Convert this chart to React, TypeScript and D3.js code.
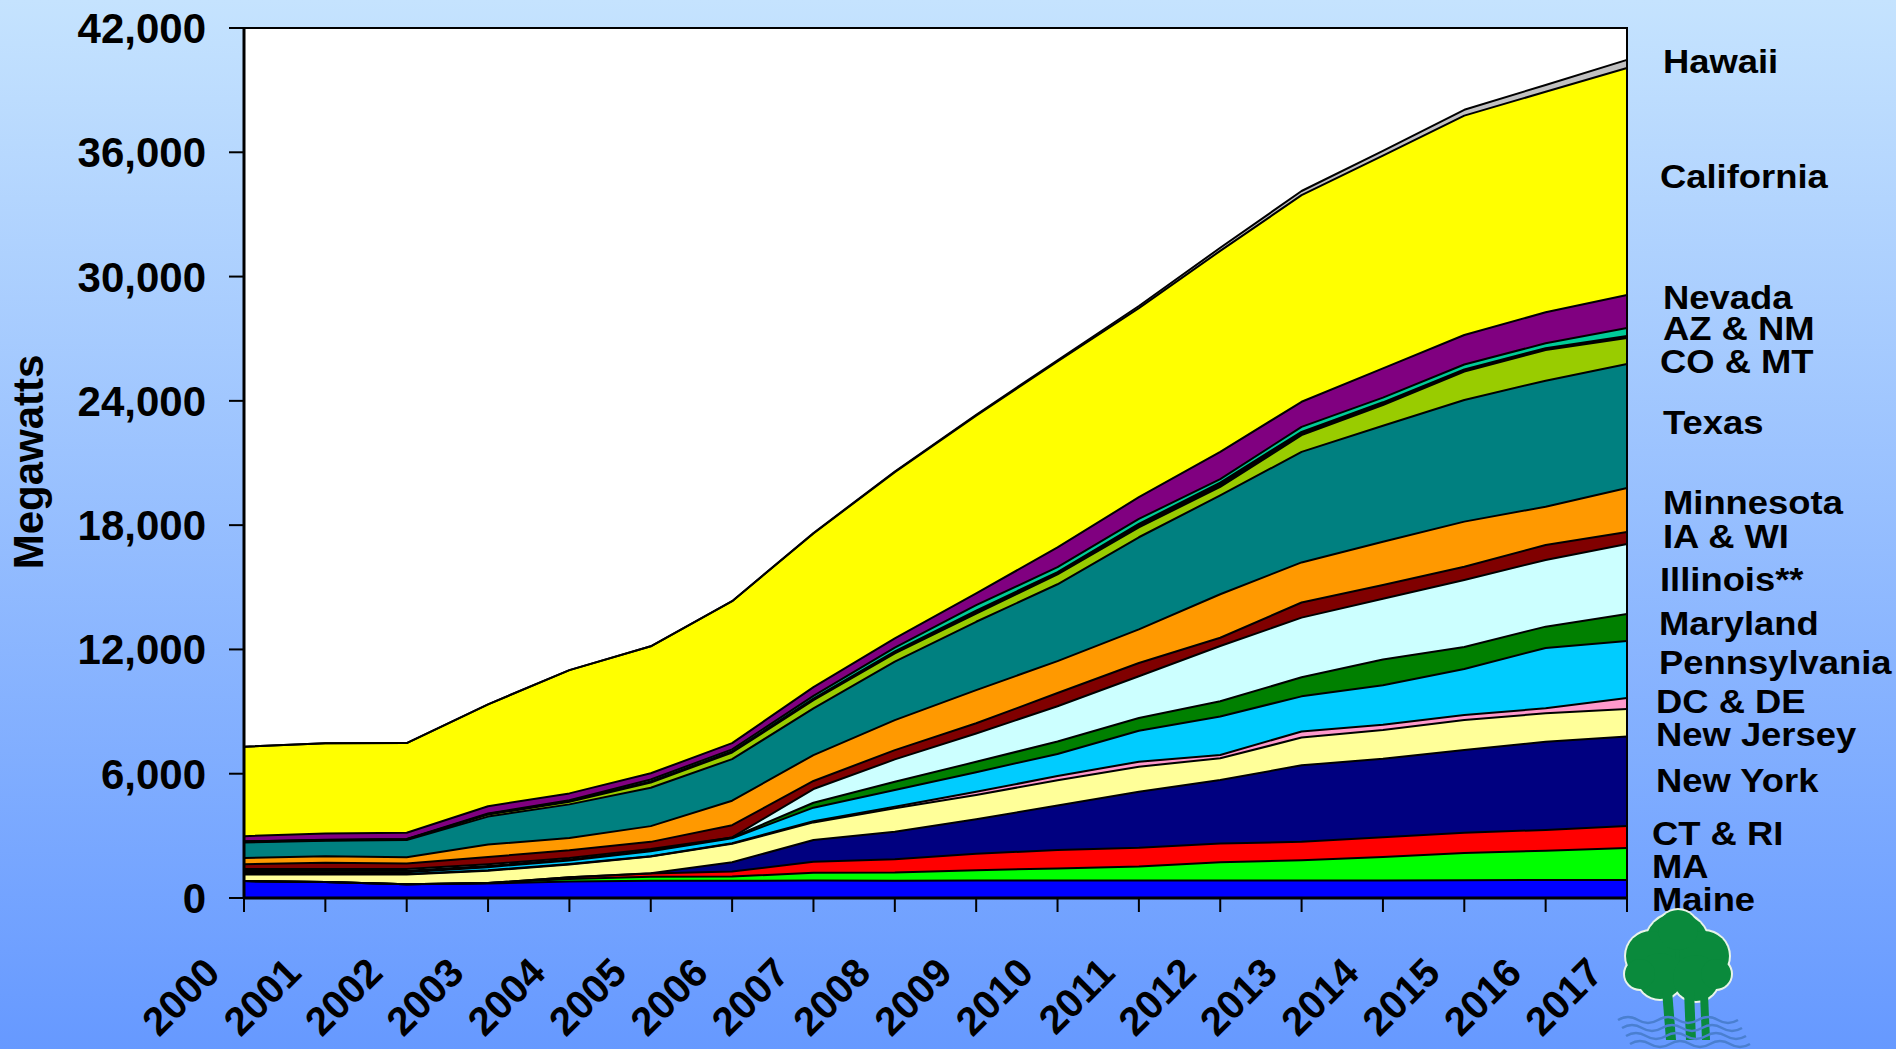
import * as d3 from "d3";

// years on the category axis
const years = [
  "2000", "2001", "2002", "2003", "2004", "2005", "2006", "2007", "2008",
  "2009", "2010", "2011", "2012", "2013", "2014", "2015", "2016", "2017",
];

// megawatts per state group, stacked bottom to top
const maine = [820, 770, 660, 700, 800, 830, 835, 840, 835, 845, 845, 845, 845, 845, 850, 860, 865, 870];
const ma = [0, 0, 0, 20, 120, 200, 200, 380, 400, 500, 580, 680, 885, 980, 1135, 1310, 1420, 1545];
const ctRi = [0, 0, 0, 0, 80, 150, 240, 530, 640, 790, 890, 900, 900, 885, 945, 985, 1000, 1060];
const newYork = [0, 0, 0, 0, 0, 20, 450, 1050, 1325, 1670, 2150, 2705, 3065, 3695, 3790, 3990, 4260, 4320];
const newJersey = [315, 370, 480, 600, 620, 800, 890, 850, 1130, 1170, 1220, 1210, 1050, 1340, 1395, 1450, 1370, 1330];
const dcDe = [20, 20, 20, 20, 20, 20, 30, 60, 80, 150, 200, 240, 160, 295, 245, 240, 245, 530];
const pennsylvania = [80, 80, 80, 150, 170, 240, 240, 650, 800, 950, 1070, 1490, 1860, 1695, 1910, 2220, 2910, 2755];
const maryland = [70, 70, 70, 60, 50, 40, 40, 240, 400, 500, 600, 620, 730, 920, 1245, 1065, 1030, 1300];
const illinois = [90, 90, 90, 80, 70, 60, 0, 660, 1080, 1370, 1700, 2015, 2670, 2880, 2935, 3235, 3220, 3380];
const iaWi = [240, 300, 270, 350, 370, 350, 590, 390, 450, 490, 640, 640, 400, 730, 660, 640, 720, 580];
const minnesota = [300, 320, 300, 600, 600, 760, 1180, 1250, 1450, 1600, 1540, 1620, 2100, 1935, 2090, 2175, 1850, 2125];
const texas = [750, 740, 830, 1350, 1620, 1850, 2010, 2250, 2820, 3300, 3710, 4450, 4770, 5335, 5600, 5875, 6085, 5985];
const coMt = [30, 30, 30, 100, 130, 250, 320, 400, 400, 400, 480, 480, 410, 810, 1000, 1365, 1480, 1255];
const nm = [10, 10, 10, 20, 30, 60, 60, 80, 100, 140, 110, 165, 210, 160, 130, 105, 85, 95];
const az = [10, 10, 10, 30, 40, 90, 90, 130, 180, 260, 240, 240, 170, 240, 225, 240, 240, 385];
const nevada = [250, 300, 300, 350, 330, 300, 300, 420, 440, 570, 950, 1050, 1310, 1210, 1415, 1425, 1495, 1595];
const california = [4315, 4360, 4330, 4920, 5950, 6130, 6855, 7420, 8030, 8585, 8975, 9130, 9705, 9975, 10270, 10590, 10645, 10960];
const hawaii = [0, 0, 0, 0, 0, 0, 0, 20, 30, 40, 60, 100, 150, 200, 230, 280, 330, 390];

const yTicks = [0, 6000, 12000, 18000, 24000, 30000, 36000, 42000];

const series = [
  { key: "Maine", values: maine, color: "#0000ff" },
  { key: "MA", values: ma, color: "#00ff00" },
  { key: "CT & RI", values: ctRi, color: "#ff0000" },
  { key: "New York", values: newYork, color: "#000080" },
  { key: "New Jersey", values: newJersey, color: "#ffff99" },
  { key: "DC & DE", values: dcDe, color: "#ff99cc" },
  { key: "Pennsylvania", values: pennsylvania, color: "#00ccff" },
  { key: "Maryland", values: maryland, color: "#008000" },
  { key: "Illinois**", values: illinois, color: "#ccffff" },
  { key: "IA & WI", values: iaWi, color: "#800000" },
  { key: "Minnesota", values: minnesota, color: "#ff9900" },
  { key: "Texas", values: texas, color: "#008080" },
  { key: "CO & MT", values: coMt, color: "#99cc00" },
  { key: "NM", values: nm, color: "#000000" },
  { key: "AZ", values: az, color: "#00cc99" },
  { key: "Nevada", values: nevada, color: "#800080" },
  { key: "California", values: california, color: "#ffff00" },
  { key: "Hawaii", values: hawaii, color: "#c0c0c0" },
];

// right-hand labels (layout only)
const labels = [
  { text: "Hawaii", x: 1663, y: 73 },
  { text: "California", x: 1660, y: 188 },
  { text: "Nevada", x: 1663, y: 309 },
  { text: "AZ & NM", x: 1663, y: 340 },
  { text: "CO & MT", x: 1660, y: 373 },
  { text: "Texas", x: 1663, y: 434 },
  { text: "Minnesota", x: 1663, y: 514 },
  { text: "IA & WI", x: 1663, y: 548 },
  { text: "Illinois**", x: 1660, y: 591 },
  { text: "Maryland", x: 1659, y: 635 },
  { text: "Pennsylvania", x: 1659, y: 674 },
  { text: "DC & DE", x: 1656, y: 713 },
  { text: "New Jersey", x: 1656, y: 746 },
  { text: "New York", x: 1656, y: 792 },
  { text: "CT & RI", x: 1652, y: 845 },
  { text: "MA", x: 1652, y: 878 },
  { text: "Maine", x: 1652, y: 911 },
];

const FONT = "'Liberation Sans', Arial, Helvetica, sans-serif";

function Tree() {
  // simple logo in the corner
  const lobes = [
    [1677, 945, 32], [1651, 956, 25], [1704, 956, 25], [1660, 976, 23],
    [1696, 978, 23], [1678, 930, 20], [1640, 974, 15], [1716, 974, 15],
  ];
  return (
    <g>
      {lobes.map(([cx, cy, r], i) => (
        <circle key={"o" + i} cx={cx} cy={cy} r={r + 2} fill="#e8f4e8" />
      ))}
      {lobes.map(([cx, cy, r], i) => (
        <circle key={"i" + i} cx={cx} cy={cy} r={r} fill="#0a8a3c" />
      ))}
      <path d="M1662,990 L1666,1040 L1676,1040 L1672,990 Z" fill="#0a8a3c" />
      <path d="M1684,990 L1686,1040 L1696,1040 L1694,990 Z" fill="#0a8a3c" />
      <path d="M1700,994 L1702,1040 L1710,1040 L1708,994 Z" fill="#0a8a3c" />
      {[1020, 1028, 1036, 1044].map((yy, i) => (
        <path
          key={"w" + i}
          d={`M${1618 + i * 4},${yy} q10,-6 20,0 t20,0 t20,0 t20,0 t20,0 t20,0`}
          fill="none"
          stroke="#4a7fd0"
          strokeWidth={2.5}
        />
      ))}
    </g>
  );
}

export default function App() {
  const width = 1896;
  const height = 1049;
  const marginTop = 28;
  const marginRight = 269;
  const marginBottom = 151;
  const marginLeft = 244;

  const rows = years.map((yr, i) => {
    const row: any = { year: yr };
    series.forEach((s) => (row[s.key] = s.values[i]));
    return row;
  });
  const stacked = d3.stack().keys(series.map((s) => s.key))(rows);

  const x = d3.scalePoint<string>().domain(years).range([marginLeft, width - marginRight]);
  const y = d3.scaleLinear().domain([0, 42000]).range([height - marginBottom, marginTop]);

  const area = d3
    .area<any>()
    .x((d) => x(d.data.year)!)
    .y0((d) => y(d[0]))
    .y1((d) => y(d[1]));
  const topLine = d3
    .line<any>()
    .x((d) => x(d.data.year)!)
    .y((d) => y(d[1]));

  const fmt = d3.format(",");
  const y0 = height - marginBottom;
  const xR = width - marginRight;

  return (
    <svg
      width={width}
      height={height}
      style={{ position: "absolute", left: 0, top: 0 }}
      fontFamily={FONT}
      fontWeight="bold"
    >
      <defs>
        <linearGradient id="bg" x1="0" y1="0" x2="0" y2="1">
          <stop offset="0" stopColor="#c5e3fe" />
          <stop offset="1" stopColor="#6699ff" />
        </linearGradient>
      </defs>
      <rect width={width} height={height} fill="url(#bg)" />
      <rect x={marginLeft} y={marginTop} width={xR - marginLeft} height={y0 - marginTop} fill="#ffffff" />

      {stacked.map((layer, i) => (
        <path key={layer.key} d={area(layer) ?? ""} fill={series[i].color} />
      ))}
      {stacked.map((layer) => (
        <path key={"l" + layer.key} d={topLine(layer) ?? ""} fill="none" stroke="#000" strokeWidth={2} strokeLinejoin="round" />
      ))}

      {/* plot frame */}
      <rect
        x={marginLeft}
        y={marginTop}
        width={xR - marginLeft}
        height={y0 - marginTop}
        fill="none"
        stroke="#000"
        strokeWidth={2}
      />
      <line x1={marginLeft} x2={marginLeft} y1={marginTop} y2={y0} stroke="#000" strokeWidth={3} />
      <line x1={marginLeft} x2={xR} y1={y0} y2={y0} stroke="#000" strokeWidth={3} />

      {/* y axis */}
      {yTicks.map((t) => (
        <g key={t}>
          <line x1={marginLeft - 15} x2={marginLeft} y1={y(t)} y2={y(t)} stroke="#000" strokeWidth={2} />
          <text x={206} y={y(t) + 15} textAnchor="end" fontSize={42} fill="#000">
            {fmt(t)}
          </text>
        </g>
      ))}
      <text
        transform={`translate(43,462) rotate(-90)`}
        textAnchor="middle"
        fontSize={42}
        fill="#000"
      >
        Megawatts
      </text>

      {/* x axis */}
      {years.map((yr) => (
        <g key={yr}>
          <line x1={x(yr)} x2={x(yr)} y1={y0} y2={y0 + 14} stroke="#000" strokeWidth={2} />
          <text
            transform={`translate(${x(yr)! - 22},${y0 + 77}) rotate(-45)`}
            textAnchor="end"
            fontSize={40}
            fill="#000"
          >
            {yr}
          </text>
        </g>
      ))}

      {labels.map((l) => (
        <text
          key={l.text}
          transform={`translate(${l.x},${l.y}) scale(1.07,1)`}
          fontSize={34}
          fill="#000"
        >
          {l.text}
        </text>
      ))}

      <Tree />
    </svg>
  );
}
